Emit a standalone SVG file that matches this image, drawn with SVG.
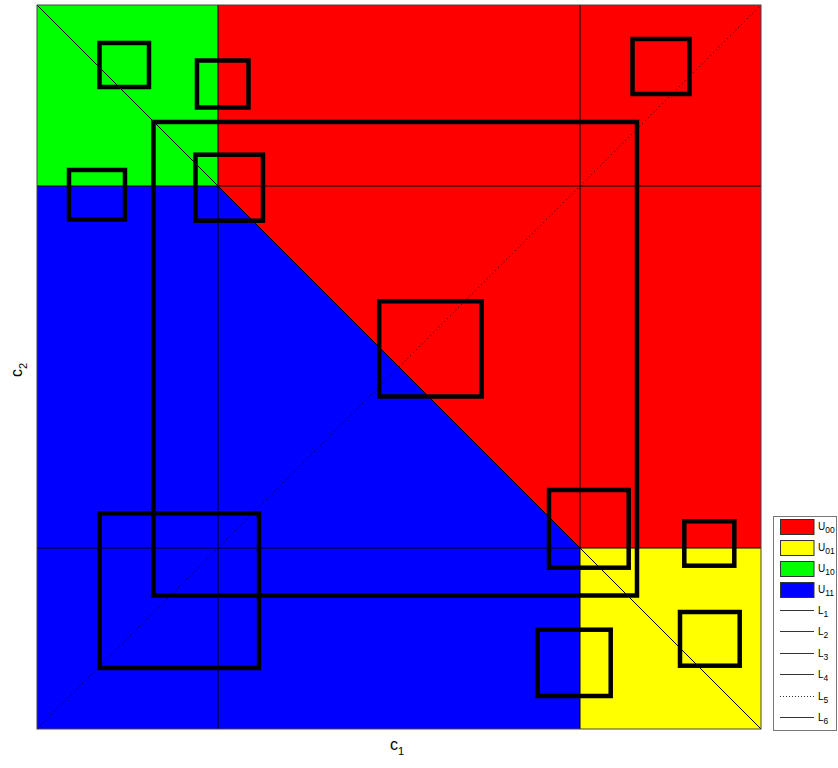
<svg xmlns="http://www.w3.org/2000/svg" width="838" height="768" viewBox="0 0 838 768">
  <style>
    .box { fill: none; stroke: #000; stroke-width: 4.5; }
    .grid { stroke: #000; stroke-width: 1; fill: none; }
    .dot { stroke: #000; stroke-width: 1; stroke-dasharray: 1 3; fill: none; }
    .lbl { font-family: "Liberation Sans", Arial, sans-serif; fill: #000; }
    .patch { stroke: #333; stroke-width: 1; }
    .sample { stroke: #333; stroke-width: 1; }
  </style>
  <rect width="838" height="768" fill="#fff"/>

  <!-- partition regions -->
  <g id="regions">
    <polygon id="U10" points="37,5 218,5 218,186 37,186" fill="#00ff00"/>
    <polygon id="U00" points="218,5 761,5 761,548 580,548 218,186" fill="#ff0000"/>
    <polygon id="U11" points="37,186 218,186 580,548 580,729 37,729" fill="#0000ff"/>
    <polygon id="U01" points="580,548 761,548 761,729 580,729" fill="#ffff00"/>
  </g>

  <!-- boundary lines L1..L6 -->
  <g id="connectors">
    <line id="L1" class="grid" x1="218" y1="5" x2="218" y2="729"/>
    <line id="L2" class="grid" x1="580" y1="5" x2="580" y2="729"/>
    <line id="L3" class="grid" x1="37" y1="186" x2="761" y2="186"/>
    <line id="L4" class="grid" x1="37" y1="548" x2="761" y2="548"/>
    <line id="L5" class="dot" x1="37" y1="729" x2="761" y2="5"/>
    <line id="L6" class="grid" x1="37" y1="5" x2="761" y2="729"/>
  </g>

  <!-- axes frame -->
  <rect x="37" y="5" width="724" height="724" fill="none" stroke="#444" stroke-width="1"/>

  <!-- boxes -->
  <g id="boxes">
    <rect id="boxA" class="box" x="99.5" y="43" width="49.5" height="44"/>
    <rect id="boxB" class="box" x="197" y="60.5" width="51.5" height="47"/>
    <rect id="boxC" class="box" x="632.5" y="39" width="57" height="55"/>
    <rect id="boxD" class="box" x="153.5" y="122" width="483.5" height="473.5"/>
    <rect id="boxE" class="box" x="69" y="170" width="56" height="49.5"/>
    <rect id="boxF" class="box" x="195.5" y="154.7" width="67.5" height="66"/>
    <rect id="boxG" class="box" x="379.2" y="301.3" width="102.5" height="95.2"/>
    <rect id="boxH" class="box" x="549" y="490" width="79.7" height="77.7"/>
    <rect id="boxI" class="box" x="684.3" y="521.3" width="50" height="44.4"/>
    <rect id="boxJ" class="box" x="99.7" y="513.3" width="159.3" height="154.7"/>
    <rect id="boxK" class="box" x="537.7" y="629.7" width="73" height="66.3"/>
    <rect id="boxL" class="box" x="680" y="612" width="59.7" height="53.7"/>
  </g>

  <!-- axis labels -->
  <g id="xlabel">
    <text class="lbl" x="390" y="750" font-size="16">c<tspan dy="5" font-size="11">1</tspan></text>
  </g>
  <g id="ylabel">
    <text class="lbl" font-size="16" transform="translate(22,377) rotate(-90)">c<tspan dy="5" font-size="11">2</tspan></text>
  </g>

  <!-- legend -->
  <g id="legend">
    <rect x="773.5" y="516.5" width="63" height="214" fill="#fff" stroke="#777" stroke-width="1"/>
    <rect class="patch" x="780.5" y="519.5" width="33.5" height="15" fill="#ff0000"/>
    <rect class="patch" x="780.5" y="540.5" width="33.5" height="15" fill="#ffff00"/>
    <rect class="patch" x="780.5" y="561.5" width="33.5" height="15" fill="#00ff00"/>
    <rect class="patch" x="780.5" y="582.5" width="33.5" height="15" fill="#0000ff"/>
    <line class="sample" x1="780" y1="610.5" x2="814" y2="610.5"/>
    <line class="sample" x1="780" y1="631.5" x2="814" y2="631.5"/>
    <line class="sample" x1="780" y1="653.5" x2="814" y2="653.5"/>
    <line class="sample" x1="780" y1="674.5" x2="814" y2="674.5" stroke="#666"/>
    <line class="sample" x1="780" y1="696.5" x2="814" y2="696.5" stroke-dasharray="1 2"/>
    <line class="sample" x1="780" y1="717.5" x2="814" y2="717.5" stroke="#666"/>
    <g class="lbl" font-size="10">
      <text x="818" y="530">U<tspan dy="3" font-size="8.5">00</tspan></text>
      <text x="818" y="551">U<tspan dy="3" font-size="8.5">01</tspan></text>
      <text x="818" y="572">U<tspan dy="3" font-size="8.5">10</tspan></text>
      <text x="818" y="593">U<tspan dy="3" font-size="8.5">11</tspan></text>
      <text x="818" y="614">L<tspan dy="3" font-size="8.5">1</tspan></text>
      <text x="818" y="635">L<tspan dy="3" font-size="8.5">2</tspan></text>
      <text x="818" y="657">L<tspan dy="3" font-size="8.5">3</tspan></text>
      <text x="818" y="678">L<tspan dy="3" font-size="8.5">4</tspan></text>
      <text x="818" y="700">L<tspan dy="3" font-size="8.5">5</tspan></text>
      <text x="818" y="721">L<tspan dy="3" font-size="8.5">6</tspan></text>
    </g>
  </g>
</svg>
